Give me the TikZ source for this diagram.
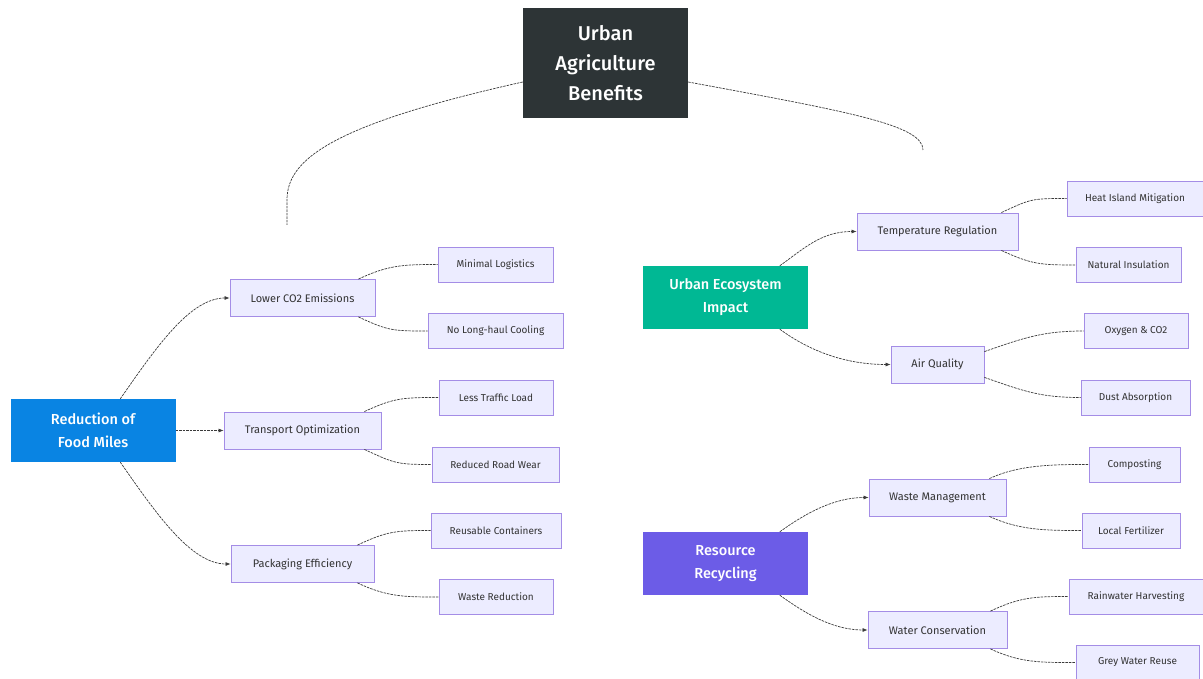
\documentclass[tikz,border=0pt]{standalone}
\usepackage{fontspec}
\setmainfont{Fira Sans}[BoldFont={Fira Sans Medium}]
\usetikzlibrary{arrows.meta,calc}
\definecolor{rootc}{HTML}{2D3436}
\definecolor{bluec}{HTML}{0984E3}
\definecolor{greenc}{HTML}{00B894}
\definecolor{purplec}{HTML}{6C5CE7}
\definecolor{leaffill}{HTML}{ECECFF}
\definecolor{leafdraw}{HTML}{A48DE6}
\definecolor{linec}{HTML}{3A3A3A}
\definecolor{txtc}{HTML}{333333}
\tikzset{
  rootbox/.style={fill=rootc, draw=none, text=white, align=center, inner sep=0pt,
    font=\fontsize{20}{30}\selectfont\bfseries},
  mainbox/.style={draw=none, text=white, align=center, inner sep=0pt,
    minimum width=165pt, minimum height=63pt, font=\fontsize{14.5}{23}\selectfont\bfseries},
  subbox/.style={fill=leaffill, draw=leafdraw, line width=0.8pt, text=txtc, inner sep=0pt,
    minimum height=37pt, font=\fontsize{11}{13}\selectfont},
  leafbox/.style={fill=leaffill, draw=leafdraw, line width=0.8pt, text=txtc, inner sep=0pt,
    minimum height=35pt, font=\fontsize{10}{12}\selectfont},
  conn/.style={draw=linec, line width=0.7pt, dash pattern=on 2.5pt off 1pt},
  arr/.style={conn, -{Latex[length=5pt,width=4pt]}},
}
\begin{document}
\begin{tikzpicture}[x=1pt,y=-1pt]
\useasboundingbox (0,0) rectangle (1203,679);
% root
\node[rootbox, minimum width=165pt, minimum height=110pt] (root) at (605.5,63) {Urban\\Agriculture\\Benefits};
\coordinate (rootL) at (287,225);
\coordinate (rootR) at (923,150);
\draw[conn] (root.west |- 0,82) .. controls (330,125) and (287,160) .. (287,200) -- (rootL);
\draw[conn] (root.east |- 0,82) .. controls (850,112) and (923,125) .. (rootR);

% main nodes
\node[mainbox, fill=bluec] (food) at (93,430.5) {Reduction of\\Food Miles};
\node[mainbox, fill=greenc] (eco) at (725.5,297.5) {Urban Ecosystem\\Impact};
\node[mainbox, fill=purplec] (rec) at (725.5,563.5) {Resource\\Recycling};

% sub nodes
\node[subbox, minimum width=145pt] (co2) at (302.5,298) {Lower CO2 Emissions};
\node[subbox, minimum width=157pt] (trans) at (302.5,430.5) {Transport Optimization};
\node[subbox, minimum width=143pt] (pack) at (302.5,564) {Packaging Efficiency};
\node[subbox, minimum width=161pt] (temp) at (937.5,231.5) {Temperature Regulation};
\node[subbox, minimum width=93pt] (air) at (937.5,364.5) {Air Quality};
\node[subbox, minimum width=137pt] (waste) at (937.5,497.5) {Waste Management};
\node[subbox, minimum width=139pt] (water) at (937.5,630) {Water Conservation};

% leaves
\node[leafbox, minimum width=115pt] (l1) at (495.5,264.5) {Minimal Logistics};
\node[leafbox, minimum width=135pt] (l2) at (495.5,331) {No Long-haul Cooling};
\node[leafbox, minimum width=114pt] (l3) at (496,397.5) {Less Traffic Load};
\node[leafbox, minimum width=127pt] (l4) at (495.5,464.5) {Reduced Road Wear};
\node[leafbox, minimum width=130pt] (l5) at (496,530.5) {Reusable Containers};
\node[leafbox, minimum width=114pt] (l6) at (496,597) {Waste Reduction};
\node[leafbox, minimum width=136pt] (r1) at (1135,198.5) {Heat Island Mitigation};
\node[leafbox, minimum width=105pt] (r2) at (1128.5,265) {Natural Insulation};
\node[leafbox, minimum width=104pt] (r3) at (1136,331) {Oxygen \& CO2};
\node[leafbox, minimum width=109pt] (r4) at (1135.5,397.5) {Dust Absorption};
\node[leafbox, minimum width=91pt] (r5) at (1134.5,464.5) {Composting};
\node[leafbox, minimum width=98pt] (r6) at (1131,530.5) {Local Fertilizer};
\node[leafbox, minimum width=134pt] (r7) at (1136,596.5) {Rainwater Harvesting};
\node[leafbox, minimum width=123pt] (r8) at (1137.5,662.5) {Grey Water Reuse};

% main -> sub
\draw[arr] ($(food.north west)+(110,0)$) .. controls +(35,-50) and +(-40,0) .. (co2.west);
\draw[arr] (food.east |- trans.west) -- (trans.west);
\draw[arr] ($(food.south west)+(110,0)$) .. controls +(35,50) and +(-40,0) .. (pack.west);
\draw[arr] ($(eco.north west)+(137,0)$) .. controls +(25,-18) and +(-35,0) .. (temp.west);
\draw[arr] ($(eco.south west)+(137,0)$) .. controls +(30,22) and +(-45,0) .. (air.west);
\draw[arr] ($(rec.north west)+(137,0)$) .. controls +(25,-18) and +(-35,0) .. (waste.west);
\draw[arr] ($(rec.south west)+(137,0)$) .. controls +(25,18) and +(-35,0) .. (water.west);

% sub -> leaf
\foreach \s/\a/\b in {co2/l1/l2, trans/l3/l4, pack/l5/l6, temp/r1/r2, waste/r5/r6, water/r7/r8}{
  \draw[conn] ($(\s.north east)+(-17,0)$) .. controls +(30,-14) and +(-35,0) .. (\a.west);
  \draw[conn] ($(\s.south east)+(-17,0)$) .. controls +(30,14) and +(-35,0) .. (\b.west);
}
\draw[conn] ($(air.north east)+(0,6)$) .. controls +(40,-14) and +(-40,0) .. (r3.west);
\draw[conn] ($(air.south east)+(0,-6)$) .. controls +(40,14) and +(-40,0) .. (r4.west);
\end{tikzpicture}
\end{document}
